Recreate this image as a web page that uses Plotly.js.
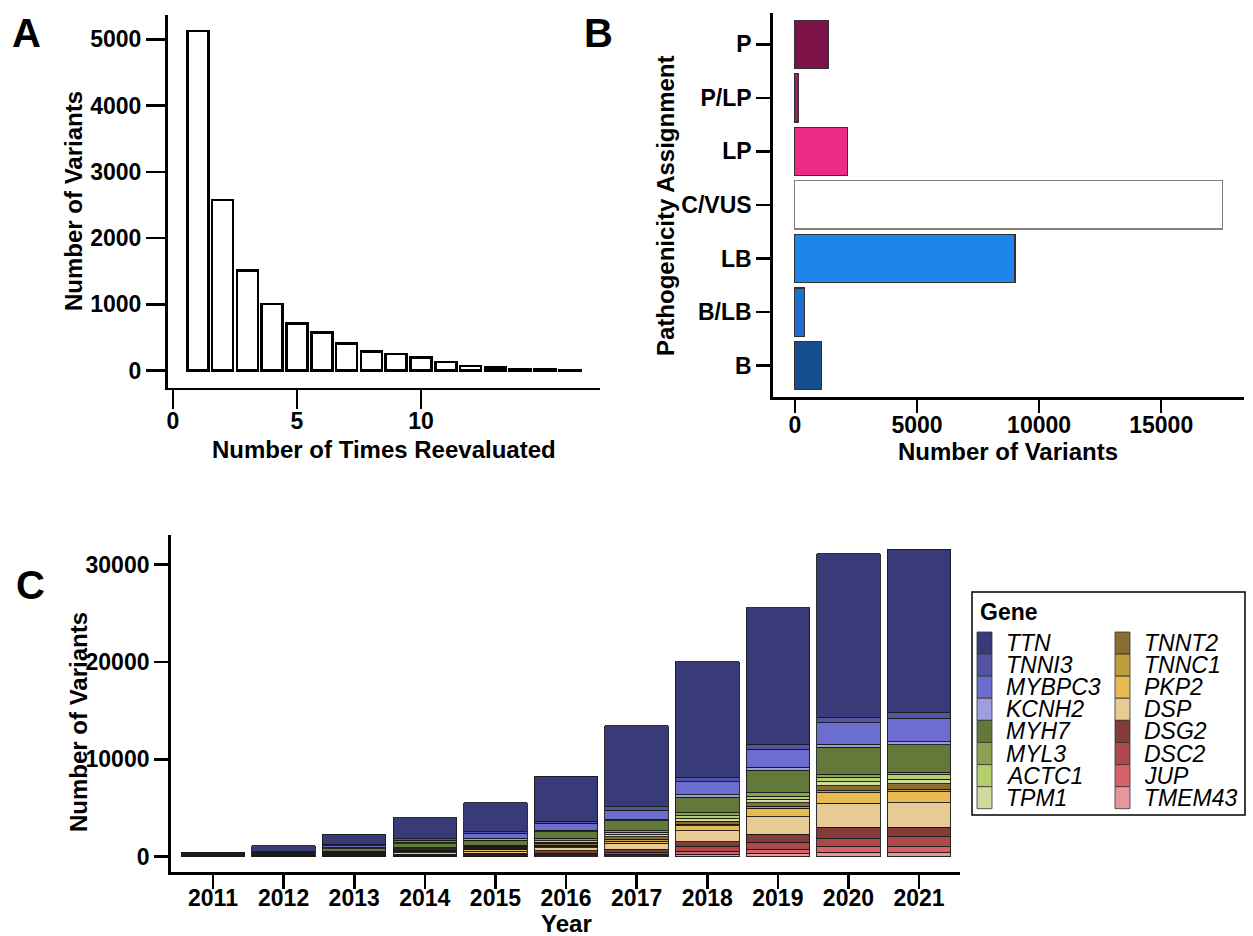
<!DOCTYPE html>
<html>
<head>
<meta charset="utf-8">
<script src="https://cdn.plot.ly/plotly-3.0.1.min.js"></script>
<style>html,body{margin:0;padding:0;background:#fff;}#chart{width:1253px;height:936px;}</style>
</head>
<body>
<div id="chart"></div>
<script>
// ---------- Panel A data ----------
const reevalTimes = [1,2,3,4,5,6,7,8,9,10,11,12,13,14,15,16];
const reevalCounts = [5125,2575,1515,1005,714,578,412,287,251,196,131,70,45,25,18,12];

// ---------- Panel B data ----------
const pathCategories = ['P','P/LP','LP','C/VUS','LB','B/LB','B'];
const pathCounts = [1380,136,2163,17496,9012,409,1090];
const pathColors = ['#7d1249','#a01c62','#ee2a87','#ffffff','#1e86ea','#1f6ec9','#144e8c'];
const pathLineColors = ['#333333','#333333','#333333','#808080','#333333','#333333','#333333'];

// ---------- Panel C data ----------
const years = [2011,2012,2013,2014,2015,2016,2017,2018,2019,2020,2021];
const genes = ['TTN','TNNI3','MYBPC3','KCNH2','MYH7','MYL3','ACTC1','TPM1','TNNT2','TNNC1','PKP2','DSP','DSG2','DSC2','JUP','TMEM43'];
const geneColors = ['#393b79','#5254a3','#6b6ecf','#9c9ede','#637939','#8ca252','#b5cf6b','#cedb9c','#8c6d31','#bd9e39','#e7ba52','#e7cb94','#843c39','#ad494a','#d6616b','#e7969c'];
const TTN    = [100,580,1030,2160,2980,4620,8290,11850,14000,16850,16800];
const TNNI3  = [20,40,135,170,170,240,340,445,550,500,550];
const MYBPC3 = [60,110,205,275,515,685,925,1370,1850,2190,2400];
const KCNH2  = [20,30,100,100,170,170,170,240,275,340,340];
const MYH7   = [80,110,275,410,515,685,1030,1575,2330,2740,2810];
const MYL3   = [20,30,60,100,120,240,170,310,340,340,275];
const ACTC1  = [15,20,40,80,100,140,205,275,340,445,445];
const TPM1   = [15,20,40,80,100,140,240,275,340,410,480];
const TNNT2  = [30,40,70,90,120,170,275,310,340,515,550];
const TNNC1  = [10,15,30,60,70,100,170,170,240,205,240];
const PKP2   = [30,30,60,90,110,170,240,515,855,1095,1130];
const DSP    = [40,40,110,180,250,310,615,1130,1815,2465,2530];
const DSG2   = [20,15,60,80,120,275,275,445,820,1130,960];
const DSC2   = [10,10,40,60,90,140,205,515,685,855,1030];
const JUP    = [5,5,20,50,70,100,170,340,445,580,615];
const TMEM43 = [5,5,20,40,50,100,100,240,340,445,410];
const geneValues = {TTN,TNNI3,MYBPC3,KCNH2,MYH7,MYL3,ACTC1,TPM1,TNNT2,TNNC1,PKP2,DSP,DSG2,DSC2,JUP,TMEM43};

// ---------- helpers ----------
const W = 1253, H = 936;
const px = p => p / W;
const py = p => 1 - p / H;
const FONT = 'Liberation Sans, Arial, Helvetica, sans-serif';
const tickFont = {family: FONT, size: 23, color: '#000', weight: 'bold'};

const traces = [];
traces.push({
  type: 'bar', x: reevalTimes, y: reevalCounts, xaxis: 'x', yaxis: 'y',
  width: 0.85, marker: {color: '#ffffff', line: {color: '#000', width: 2.6}},
  showlegend: false, hoverinfo: 'skip'
});
traces.push({
  type: 'bar', orientation: 'h', y: pathCategories, x: pathCounts, xaxis: 'x2', yaxis: 'y2',
  width: 0.9, marker: {color: pathColors, line: {color: pathLineColors, width: 1.2}},
  showlegend: false, hoverinfo: 'skip'
});
// stacked: first trace at bottom -> iterate genes reversed (TMEM43 bottom, TTN top)
for (let i = genes.length - 1; i >= 0; i--) {
  traces.push({
    type: 'bar', x: years, y: geneValues[genes[i]], xaxis: 'x3', yaxis: 'y3', name: genes[i],
    width: 0.9, marker: {color: geneColors[i], line: {color: '#1a1a1a', width: 0.9}},
    showlegend: false, hoverinfo: 'skip'
  });
}

function axisBase(extra) {
  return Object.assign({
    showline: true, linecolor: '#000', linewidth: 2.6, mirror: false,
    ticks: 'outside', tickcolor: '#000', tickwidth: 2.6,
    showgrid: false, zeroline: false, tickfont: tickFont, fixedrange: true,
    tickformat: 'd'
  }, extra);
}

const annotations = [];
function ann(text, x, y, size, opts) {
  annotations.push(Object.assign({
    text: text, x: px(x), y: py(y), xref: 'paper', yref: 'paper', showarrow: false,
    font: {family: FONT, size: size, color: '#000', weight: 'bold'}, xanchor: 'center', yanchor: 'middle'
  }, opts || {}));
}
// panel letters
ann('A', 26, 33, 40);
ann('B', 598, 33, 40);
ann('C', 30, 585, 40);
// axis titles
ann('Number of Variants', 73, 201, 24, {textangle: -90});
ann('Number of Times Reevaluated', 384, 449, 24);
ann('Pathogenicity Assignment', 665, 206, 24, {textangle: -90});
ann('Number of Variants', 1008, 451, 24);
ann('Number of Variants', 78, 722, 24, {textangle: -90});
ann('Year', 566, 923, 24);

// custom legend
const shapes = [];
shapes.push({type: 'rect', xref: 'paper', yref: 'paper', x0: px(972), x1: px(1245), y0: py(815), y1: py(592),
  line: {color: '#000', width: 1.5}, fillcolor: 'rgba(0,0,0,0)'});
ann('Gene', 978, 612, 23, {xanchor: 'left'});
genes.forEach((g, i) => {
  const col = i < 8 ? 0 : 1;
  const row = i % 8;
  const cy = 643 + row * 22.1;
  const sx = col === 0 ? 977 : 1115;
  const tx = col === 0 ? 1004 : 1142;
  shapes.push({type: 'rect', xref: 'paper', yref: 'paper', x0: px(sx), x1: px(sx + 15),
    y0: py(cy + 11), y1: py(cy - 11), fillcolor: geneColors[i], line: {color: '#333', width: 0.8}});
  annotations.push({text: g, x: px(tx), y: py(cy), xref: 'paper', yref: 'paper', showarrow: false,
    xanchor: 'left', yanchor: 'middle', font: {family: FONT, size: 23, color: '#000', style: 'italic'}});
});

const layout = {
  width: W, height: H, margin: {l: 0, r: 0, t: 0, b: 0},
  paper_bgcolor: '#fff', plot_bgcolor: 'rgba(0,0,0,0)',
  barmode: 'stack', showlegend: false, hovermode: false,
  // Panel A
  xaxis: axisBase({domain: [px(167.6), px(600)], range: [-0.218, 17.22], anchor: 'y',
    tickvals: [0, 5, 10], ticklen: 19, ticklabelstandoff: -8}),
  yaxis: axisBase({domain: [py(387.7), py(15)], range: [-256, 5365], anchor: 'x',
    tickvals: [0, 1000, 2000, 3000, 4000, 5000], ticklen: 19}),
  // Panel B
  xaxis2: axisBase({domain: [px(772.8), px(1243.5)], range: [-905, 18370], anchor: 'y2',
    tickvals: [0, 5000, 10000, 15000], ticklen: 13, ticklabelstandoff: -8}),
  yaxis2: axisBase({domain: [py(397.3), py(13.3)], anchor: 'x2', type: 'category',
    categoryorder: 'array', categoryarray: pathCategories.slice().reverse(),
    range: [-0.59, 6.578], ticklen: 14}),
  // Panel C
  xaxis3: axisBase({domain: [px(170.7), px(960)], range: [2010.401, 2021.58], anchor: 'y3',
    tickvals: years, ticklen: 14, ticklabelstandoff: -10}),
  yaxis3: axisBase({domain: [py(872), py(535)], range: [-1571, 33030], anchor: 'x3',
    tickvals: [0, 10000, 20000, 30000], ticklen: 14}),
  annotations: annotations,
  shapes: shapes
};

Plotly.newPlot('chart', traces, layout, {staticPlot: true, displayModeBar: false});
</script>
</body>
</html>
